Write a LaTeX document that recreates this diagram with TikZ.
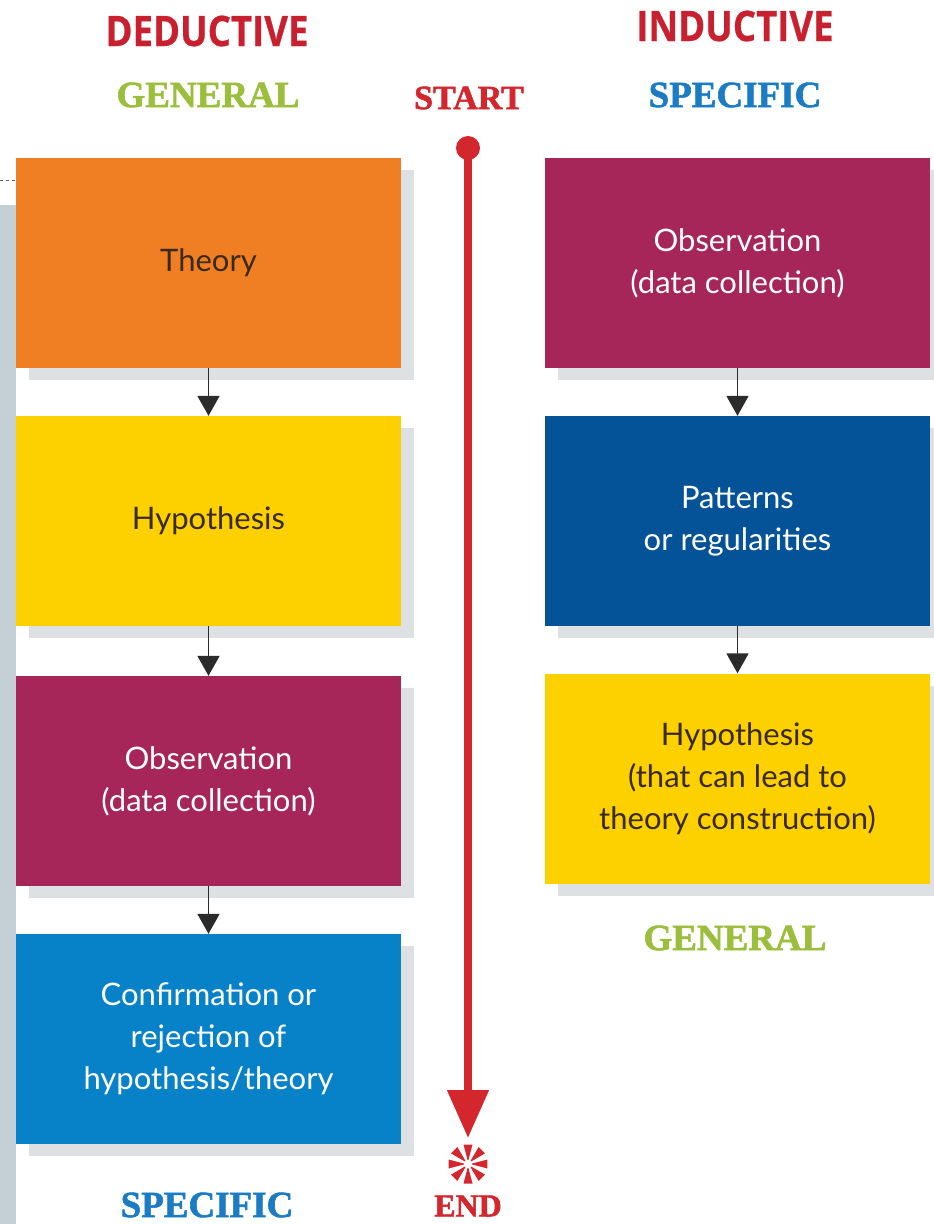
\documentclass[tikz,border=0pt]{standalone}
\usepackage{fontspec}
\setmainfont{Lato}
\newfontfamily\headfont{Open Sans}[BoldFeatures={FakeBold=0.6}]
\newfontfamily\stencilfont{Liberation Serif}[BoldFeatures={FakeBold=1.6}]
\usetikzlibrary{arrows.meta,shadows}
\definecolor{cOrange}{HTML}{EF7F22}
\definecolor{cYellow}{HTML}{FDD000}
\definecolor{cMagenta}{HTML}{A6265A}
\definecolor{cNavy}{HTML}{045297}
\definecolor{cBlue}{HTML}{0782C9}
\definecolor{cRed}{HTML}{D3262D}
\definecolor{cHeadRed}{HTML}{C8202F}
\definecolor{cGreen}{HTML}{9BBE3C}
\definecolor{cTextBlue}{HTML}{1B7CC3}
\definecolor{cShadow}{HTML}{DDE1E4}
\definecolor{cStrip}{HTML}{C5D0D6}
\definecolor{cDark}{HTML}{3A2A1E}
\definecolor{cArrow}{HTML}{2B2B2B}
\tikzset{
  box/.style={minimum width=385pt, minimum height=210pt, inner sep=0pt, align=center,
    font=\fontsize{31}{42}\selectfont,
    drop shadow={shadow xshift=13pt, shadow yshift=-12pt, fill=cShadow, opacity=1}},
  flow/.style={draw=cArrow, line width=1.8pt, -{Triangle[width=22pt,length=20pt]}},
  headtxt/.style={font=\headfont\bfseries\fontsize{42}{42}\selectfont, text=cHeadRed, inner sep=0pt},
  stencil/.style={font=\stencilfont\bfseries\fontsize{37}{37}\selectfont, inner sep=0pt},
}
\begin{document}
\begin{tikzpicture}[x=1pt,y=-1pt]
\useasboundingbox (0,0) rectangle (934,1224);
% left strip
\fill[cStrip] (0,205) rectangle (16,1224);
\draw[cArrow!75, dashed, line width=1pt] (0,180) -- (16,180);
% headings
\node[headtxt] (ded) at (207,31) {\scalebox{0.87}[1]{DEDUCTIVE}};
\node[headtxt] (ind) at (735,26) {\scalebox{0.87}[1]{INDUCTIVE}};
\node[stencil, text=cGreen] (gen1) at (208,95) {GENERAL};
\node[stencil, text=cTextBlue] (spec1) at (735,95) {SPECIFIC};
\node[stencil, text=cRed, font=\stencilfont\bfseries\fontsize{34}{34}\selectfont] (start) at (469,98) {START};
\node[stencil, text=cGreen] (gen2) at (735,938) {GENERAL};
\node[stencil, text=cTextBlue] (spec2) at (207,1205) {SPECIFIC};
\node[stencil, text=cRed, font=\stencilfont\bfseries\fontsize{32}{32}\selectfont] (end) at (468,1206) {END};
% left column
\node[box, fill=cOrange, text=cDark] (theory) at (208.5,263) {Theory};
\node[box, fill=cYellow, text=cDark] (hyp) at (208.5,521) {Hypothesis};
\node[box, fill=cMagenta, text=white] (obs) at (208.5,781) {Observation\\(data collection)};
\node[box, fill=cBlue, text=white] (conf) at (208.5,1039) {Confirmation or\\rejection of\\hypothesis/theory};
% right column
\node[box, fill=cMagenta, text=white] (robs) at (737.5,263) {Observation\\(data collection)};
\node[box, fill=cNavy, text=white] (pat) at (737.5,521) {Patterns\\or regularities};
\node[box, fill=cYellow, text=cDark] (rhyp) at (737.5,778.5) {Hypothesis\\(that can lead to\\theory construction)};
% flow arrows
\draw[flow] (theory.south) -- (hyp.north);
\draw[flow] (hyp.south) -- (obs.north);
\draw[flow] (obs.south) -- (conf.north);
\draw[flow] (robs.south) -- (pat.north);
\draw[flow] (pat.south) -- (rhyp.north);
% timeline
\coordinate (tstart) at (468,148);
\coordinate (tend) at (468,1138);
\fill[cRed] (tstart) circle[radius=12pt];
\draw[cRed, line width=8pt, -{Triangle[width=40pt,length=48pt]}] (tstart) -- (tend);
% asterisk
\coordinate (star) at (468,1164);
\foreach \a in {0,45,...,315}
  \fill[cRed] ([shift={(\a-6:4pt)}]star) -- ([shift={(\a-13:20pt)}]star) -- ([shift={(\a+13:20pt)}]star) -- ([shift={(\a+6:4pt)}]star) -- cycle;
\end{tikzpicture}
\end{document}
